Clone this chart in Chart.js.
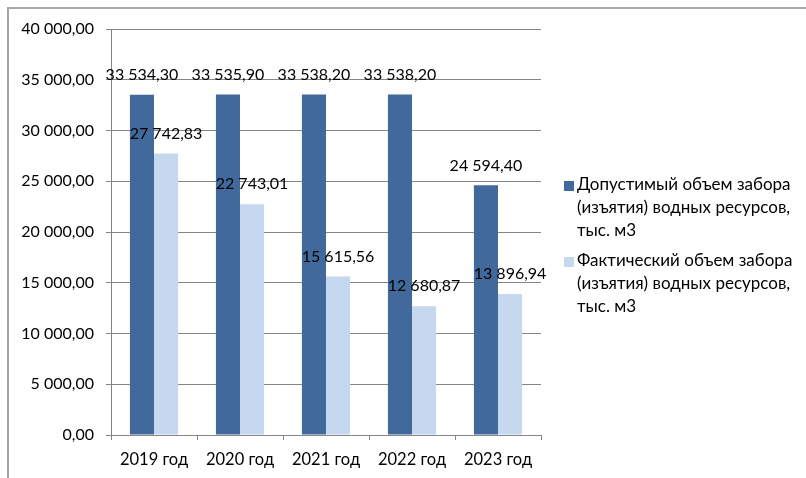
<!DOCTYPE html>
<html>
<head>
<meta charset="utf-8">
<script src="https://cdn.jsdelivr.net/npm/chart.js@4.4.0/dist/chart.umd.min.js"></script>
<style>
    body { margin: 0; background: #fff; }
    #wrap { position: relative; width: 806px; height: 478px; }
    #frame {
        position: absolute; left: 7px; top: 7px; right: 0; bottom: 0;
        border-left: 2px solid #a6a6a6; border-top: 2px solid #a6a6a6;
    }
    #mycanvas { position: absolute; left: 0; top: 0; }
</style>
</head>
<body>
<div id="wrap">
    <div id="frame"></div>
    <canvas id="mycanvas" width="806" height="478"></canvas>
</div>
<script>
const years = ['2019 год', '2020 год', '2021 год', '2022 год', '2023 год'];
const allowedVolume = [33534.30, 33535.90, 33538.20, 33538.20, 24594.40];
const actualVolume = [27742.83, 22743.01, 15615.56, 12680.87, 13896.94];
const allowedLabel = ['Допустимый объем забора', '(изъятия) водных ресурсов,', 'тыс. м3'];
const actualLabel = ['Фактический объем забора', '(изъятия) водных ресурсов,', 'тыс. м3'];
const yMax = 40000;
const yStep = 5000;

const fontFamily = 'Lato, "Liberation Sans", sans-serif';

// 33534.3 -> "33 534,30"
function fmt(v) {
    const parts = Number(v).toFixed(2).split('.');
    return parts[0].replace(/\B(?=(\d{3})+(?!\d))/g, ' ') + ',' + parts[1];
}

// values above each bar
const barValues = {
    id: 'barValues',
    afterDatasetsDraw(chart) {
        const ctx = chart.ctx;
        ctx.save();
        ctx.font = '16px ' + fontFamily;
        ctx.fillStyle = '#000';
        ctx.textAlign = 'center';
        ctx.textBaseline = 'middle';
        chart.data.datasets.forEach((ds, i) => {
            chart.getDatasetMeta(i).data.forEach((bar, j) => {
                ctx.fillText(fmt(ds.data[j]), bar.x, bar.y - 20);
            });
        });
        ctx.restore();
    }
};

// legend on the right, multi-line labels
const sideLegend = {
    id: 'sideLegend',
    afterDraw(chart) {
        const ctx = chart.ctx;
        const x = 564;
        const tops = [185, 261];
        ctx.save();
        ctx.font = '17px ' + fontFamily;
        ctx.textBaseline = 'middle';
        ctx.textAlign = 'left';
        chart.data.datasets.forEach((ds, i) => {
            ctx.fillStyle = ds.backgroundColor;
            ctx.fillRect(x, tops[i] - 4, 10, 10);
            ctx.fillStyle = '#000';
            ds.legendLines.forEach((line, k) => {
                ctx.fillText(line, x + 13, tops[i] + k * 23);
            });
        });
        ctx.restore();
    }
};

Chart.defaults.font.family = fontFamily;
Chart.defaults.font.size = 16;
Chart.defaults.color = '#000';

const ctx = document.getElementById('mycanvas');
new Chart(ctx, {
    type: 'bar',
    data: {
        labels: years,
        datasets: [
            {
                label: allowedLabel.join(' '),
                legendLines: allowedLabel,
                backgroundColor: '#41699c',
                data: allowedVolume,
                barPercentage: 1,
                categoryPercentage: 0.56
            },
            {
                label: actualLabel.join(' '),
                legendLines: actualLabel,
                backgroundColor: '#c6d8f0',
                data: actualVolume,
                barPercentage: 1,
                categoryPercentage: 0.56
            }
        ]
    },
    options: {
        responsive: false,
        animation: false,
        layout: { padding: { top: 29, right: 265, left: 0, bottom: 0 } },
        plugins: {
            legend: { display: false },
            tooltip: { enabled: false }
        },
        scales: {
            x: {
                afterFit: scale => { scale.height = 43; },
                grid: { drawOnChartArea: false, color: '#868686', tickLength: 5 },
                border: { color: '#868686' },
                ticks: { padding: 10, font: { size: 16.5 } }
            },
            y: {
                min: 0,
                max: yMax,
                afterFit: scale => { scale.width = 111; },
                grid: { color: '#868686', tickLength: 5 },
                border: { color: '#868686' },
                ticks: { stepSize: yStep, padding: 12, callback: v => fmt(v) }
            }
        }
    },
    plugins: [barValues, sideLegend]
});
</script>
</body>
</html>
